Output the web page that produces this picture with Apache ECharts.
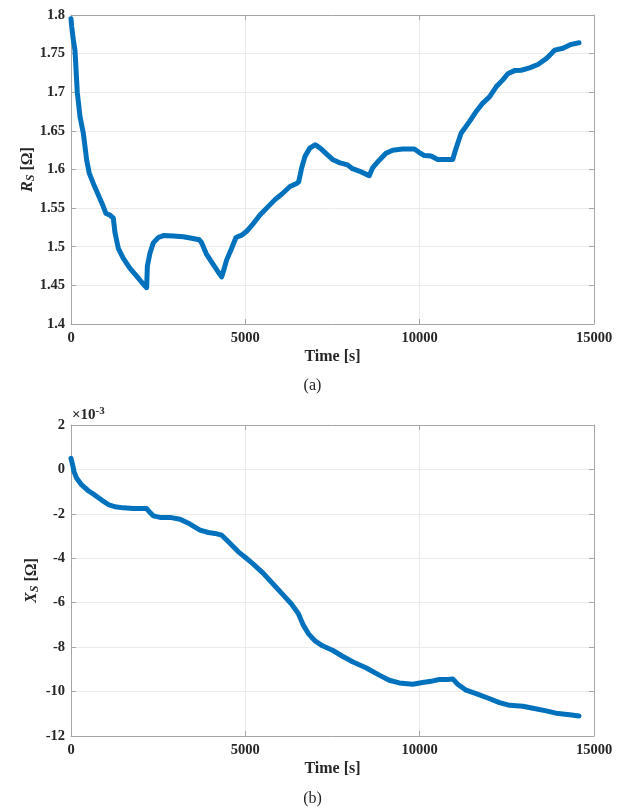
<!DOCTYPE html>
<html>
<head>
<meta charset="utf-8">
<script src="https://cdn.jsdelivr.net/npm/echarts@6/dist/echarts.min.js"></script>
<style>
  html, body { margin: 0; padding: 0; background: #ffffff; }
  #chart { width: 625px; height: 808px; }
</style>
</head>
<body>
<div id="chart"></div>
<script>
// Series resistance R_S [Ω] over time
const rsTime = [0, 10, 20, 60, 115, 180, 260, 354, 450, 525, 640, 784, 927, 1004, 1118, 1214, 1262, 1357, 1500, 1692, 1883, 2027, 2170,
  2190, 2266, 2360, 2505, 2648, 2935, 3222, 3460, 3680, 3748, 3890, 4082, 4226, 4321, 4369, 4465, 4608, 4732, 4895, 5038, 5229,
  5420, 5612, 5850, 6042, 6281, 6472, 6530, 6615, 6711, 6854, 7010, 7164, 7356, 7500, 7691, 7931, 8074, 8266, 8458, 8553, 8649,
  8841, 9032, 9224, 9511, 9847, 9990, 10134, 10326, 10517, 10757, 10948, 11025, 11188, 11427, 11619, 11811, 12002, 12194, 12385,
  12529, 12721, 12912, 13152, 13391, 13631, 13870, 14110, 14349, 14570];
const rsValue = [1.795, 1.795, 1.785, 1.770, 1.754, 1.700, 1.668, 1.647, 1.612, 1.595, 1.582, 1.567, 1.552, 1.543, 1.541, 1.537, 1.518, 1.498, 1.485, 1.472, 1.462, 1.454, 1.447,
  1.475, 1.492, 1.505, 1.512, 1.5145, 1.514, 1.513, 1.511, 1.509, 1.505, 1.490, 1.477, 1.467, 1.461, 1.468, 1.483, 1.498, 1.512, 1.515, 1.520, 1.530,
  1.541, 1.550, 1.561, 1.568, 1.578, 1.582, 1.584, 1.602, 1.617, 1.628, 1.632, 1.627, 1.619, 1.613, 1.609, 1.606, 1.601, 1.598, 1.594, 1.592, 1.602,
  1.612, 1.621, 1.625, 1.6265, 1.6265, 1.622, 1.618, 1.6175, 1.613, 1.613, 1.613, 1.625, 1.647, 1.662, 1.675, 1.686, 1.694, 1.707, 1.716,
  1.724, 1.728, 1.7285, 1.7315, 1.736, 1.7435, 1.7545, 1.757, 1.762, 1.764];

// Series reactance X_S, in units of 10^-3 Ω
const xsTime = [0, 19, 48, 86, 163, 306, 497, 688, 880, 1070, 1262, 1500, 1788, 2170, 2266, 2360, 2552, 2839, 3126, 3413, 3700, 3939,
  4130, 4321, 4465, 4656, 4799, 5038, 5229, 5516, 5803, 6090, 6329, 6520, 6663, 6807, 6998, 7212, 7500, 7788, 8074, 8458, 8841,
  9128, 9416, 9799, 10086, 10374, 10565, 10805, 10948, 11092, 11332, 11619, 11954, 12290, 12577, 12960, 13247, 13631, 13966, 14301, 14570];
const xsValue = [0.50, 0.50, 0.20, -0.10, -0.40, -0.70, -0.96, -1.16, -1.38, -1.58, -1.68, -1.73, -1.76, -1.76, -1.94, -2.09, -2.16, -2.16, -2.24, -2.46, -2.73, -2.84,
  -2.88, -2.96, -3.18, -3.48, -3.71, -4.01, -4.26, -4.68, -5.17, -5.66, -6.07, -6.49, -7.01, -7.39, -7.72, -7.94, -8.14, -8.41, -8.66, -8.93, -9.26,
  -9.49, -9.61, -9.67, -9.59, -9.52, -9.46, -9.46, -9.43, -9.67, -9.94, -10.09, -10.29, -10.50, -10.62, -10.66, -10.75, -10.87, -10.99, -11.04, -11.10];

const timeTicks = [0, 5000, 10000, 15000];
const rsTicks = [1.4, 1.45, 1.5, 1.55, 1.6, 1.65, 1.7, 1.75, 1.8];
const xsTicks = [-12, -10, -8, -6, -4, -2, 0, 2];

const FONT = '"Liberation Serif", "DejaVu Serif", serif';
const TEXT = '#262626';
const BOX = '#a6a6a6';
const GRIDC = '#ebebeb';
const LINE = '#0072BD';
const TICK_FS = 14.5;
const NAME_FS = 16;

function pairs(xs, ys) { return xs.map((x, i) => [x, ys[i]]); }
// plain number text: no thousands separators, no float noise
function plain(v) { return String(parseFloat(Number(v).toFixed(4))); }

function bottomAxis(gridIndex) {
  return {
    type: 'value', gridIndex, position: 'bottom',
    min: timeTicks[0], max: timeTicks[timeTicks.length - 1], interval: timeTicks[1] - timeTicks[0],
    name: 'Time [s]', nameLocation: 'middle', nameGap: 25, nameMoveOverlap: false,
    nameTextStyle: { fontFamily: FONT, fontWeight: 'bold', fontSize: NAME_FS, color: TEXT },
    axisLine: { show: true, onZero: false, lineStyle: { color: BOX, width: 1 } },
    axisTick: { show: true, inside: true, length: 5, lineStyle: { color: BOX } },
    axisLabel: { fontFamily: FONT, fontWeight: 'bold', fontSize: TICK_FS, color: TEXT, margin: 7, formatter: plain },
    splitLine: { show: true, lineStyle: { color: GRIDC, width: 1 } }
  };
}
function topAxis(gridIndex) {
  return {
    type: 'value', gridIndex, position: 'top',
    min: timeTicks[0], max: timeTicks[timeTicks.length - 1], interval: timeTicks[1] - timeTicks[0],
    axisLine: { show: true, onZero: false, lineStyle: { color: BOX, width: 1 } },
    axisTick: { show: true, inside: true, length: 5, lineStyle: { color: BOX } },
    axisLabel: { show: false }, splitLine: { show: false }
  };
}
function leftAxis(gridIndex, ticks, name, gap) {
  return {
    type: 'value', gridIndex, position: 'left',
    min: ticks[0], max: ticks[ticks.length - 1], interval: ticks[1] - ticks[0],
    name, nameLocation: 'middle', nameGap: gap, nameRotate: 90, nameMoveOverlap: false,
    nameTextStyle: {
      fontFamily: FONT, fontWeight: 'bold', fontSize: NAME_FS, color: TEXT,
      rich: {
        v: { fontFamily: FONT, fontWeight: 'bold', fontStyle: 'italic', fontSize: NAME_FS, color: TEXT },
        s: { fontFamily: FONT, fontWeight: 'bold', fontStyle: 'italic', fontSize: 12, color: TEXT, verticalAlign: 'bottom', padding: [7, 0, 0, 0] },
        u: { fontFamily: FONT, fontWeight: 'bold', fontSize: NAME_FS, color: TEXT }
      }
    },
    axisLine: { show: true, onZero: false, lineStyle: { color: BOX, width: 1 } },
    axisTick: { show: true, inside: true, length: 5, lineStyle: { color: BOX } },
    axisLabel: { fontFamily: FONT, fontWeight: 'bold', fontSize: TICK_FS, color: TEXT, margin: 6, formatter: plain },
    splitLine: { show: true, lineStyle: { color: GRIDC, width: 1 } }
  };
}
function rightAxis(gridIndex, ticks) {
  return {
    type: 'value', gridIndex, position: 'right',
    min: ticks[0], max: ticks[ticks.length - 1], interval: ticks[1] - ticks[0],
    axisLine: { show: true, onZero: false, lineStyle: { color: BOX, width: 1 } },
    axisTick: { show: true, inside: true, length: 5, lineStyle: { color: BOX } },
    axisLabel: { show: false }, splitLine: { show: false }
  };
}

const chart = echarts.init(document.getElementById('chart'), null, { renderer: 'canvas' });
chart.setOption({
  backgroundColor: '#ffffff',
  animation: false,
  grid: [
    { left: 71, right: 31, top: 15, height: 309, containLabel: false, outerBoundsMode: 'none' },
    { left: 71, right: 31, top: 425, height: 311, containLabel: false, outerBoundsMode: 'none' }
  ],
  title: [
    { text: '(a)', left: 'center', top: 373, textStyle: { fontFamily: FONT, fontWeight: 'normal', fontSize: 16, color: TEXT } },
    { text: '(b)', left: 'center', top: 786, textStyle: { fontFamily: FONT, fontWeight: 'normal', fontSize: 16, color: TEXT } }
  ],
  graphic: [{
    type: 'text', left: 72, top: 406,
    style: {
      text: '×10{e|-3}',
      font: 'bold 15px ' + FONT, fill: TEXT,
      rich: { e: { font: 'bold 11px ' + FONT, fill: TEXT, verticalAlign: 'top', padding: [0, 0, 8, 0] } }
    }
  }],
  xAxis: [bottomAxis(0), topAxis(0), bottomAxis(1), topAxis(1)],
  yAxis: [
    leftAxis(0, rsTicks, '{v|R}{s|S} {u|[Ω]}', 34), rightAxis(0, rsTicks),
    leftAxis(1, xsTicks, '{v|X}{s|S} {u|[Ω]}', 30), rightAxis(1, xsTicks)
  ],
  series: [
    {
      type: 'line', xAxisIndex: 0, yAxisIndex: 0, data: pairs(rsTime, rsValue),
      showSymbol: false, smooth: false,
      lineStyle: { color: LINE, width: 5, cap: 'round', join: 'round' }
    },
    {
      type: 'line', xAxisIndex: 2, yAxisIndex: 2, data: pairs(xsTime, xsValue),
      showSymbol: false, smooth: false,
      lineStyle: { color: LINE, width: 5, cap: 'round', join: 'round' }
    }
  ]
});
</script>
</body>
</html>
